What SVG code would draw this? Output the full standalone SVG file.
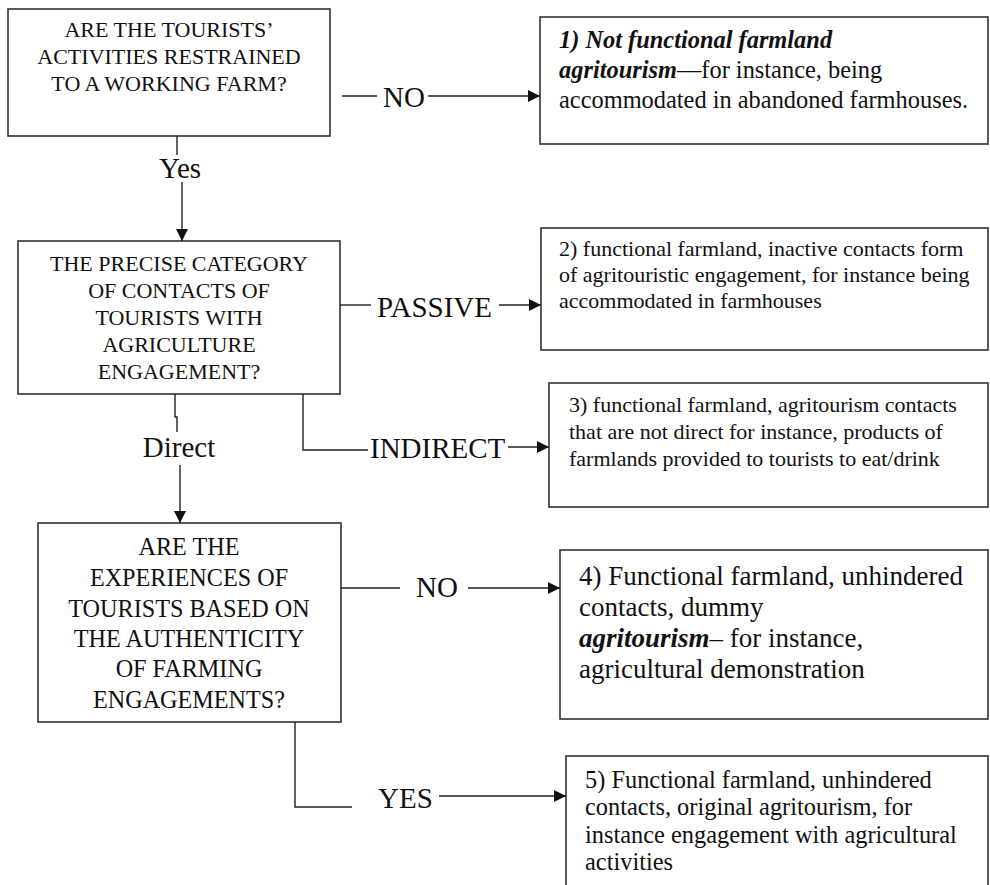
<svg xmlns="http://www.w3.org/2000/svg" width="990" height="885" viewBox="0 0 990 885">
<style>
.box{fill:#fff;stroke:#333;stroke-width:1.6}
.ln{fill:none;stroke:#222;stroke-width:1.4}
.q{font-family:'Liberation Serif','Times New Roman',serif;fill:#111;text-anchor:middle}
.t{font-family:'Liberation Serif','Times New Roman',serif;fill:#111}
.lab{font-family:'Liberation Serif','Times New Roman',serif;fill:#111;font-size:29px}
.bi{font-weight:bold;font-style:italic}
</style>
<defs>
<marker id="ah" markerUnits="userSpaceOnUse" markerWidth="12" markerHeight="12" viewBox="0 0 12 12" refX="12" refY="6" orient="auto">
<path d="M0,0 L12,6 L0,12 Z" fill="#111"/>
</marker>
</defs>
<rect width="990" height="885" fill="#fff"/>

<g id="q1">
<rect class="box" x="8" y="9" width="322" height="127"/>
<text class="q" font-size="22" x="169" y="37">ARE THE TOURISTS’</text>
<text class="q" font-size="22" x="169" y="64">ACTIVITIES RESTRAINED</text>
<text class="q" font-size="22" x="169" y="91">TO A WORKING FARM?</text>
</g>

<g id="r1">
<rect class="box" x="540" y="17" width="448" height="127"/>
<text class="t" font-size="24.4" x="559" y="48"><tspan class="bi">1) Not functional farmland</tspan></text>
<text class="t" font-size="24.4" x="559" y="78"><tspan class="bi">agritourism</tspan>—for instance, being</text>
<text class="t" font-size="24.4" x="559" y="108">accommodated in abandoned farmhouses.</text>
</g>

<g id="q2">
<rect class="box" x="18" y="241" width="322" height="153"/>
<text class="q" font-size="22" x="179" y="271">THE PRECISE CATEGORY</text>
<text class="q" font-size="22" x="179" y="298">OF CONTACTS OF</text>
<text class="q" font-size="22" x="179" y="325">TOURISTS WITH</text>
<text class="q" font-size="22" x="179" y="352">AGRICULTURE</text>
<text class="q" font-size="22" x="179" y="379">ENGAGEMENT?</text>
</g>

<g id="r2">
<rect class="box" x="541" y="228" width="447" height="122"/>
<text class="t" font-size="22" x="559" y="256">2) functional farmland, inactive contacts form</text>
<text class="t" font-size="22" x="559" y="282">of agritouristic engagement, for instance being</text>
<text class="t" font-size="22" x="559" y="308">accommodated in farmhouses</text>
</g>

<g id="r3">
<rect class="box" x="549" y="383" width="439" height="124"/>
<text class="t" font-size="22" x="569" y="412">3) functional farmland, agritourism contacts</text>
<text class="t" font-size="22" x="569" y="439">that are not direct for instance, products of</text>
<text class="t" font-size="22" x="569" y="466">farmlands provided to tourists to eat/drink</text>
</g>

<g id="q3">
<rect class="box" x="38" y="523" width="303" height="199"/>
<text class="q" font-size="24.2" x="189" y="555">ARE THE</text>
<text class="q" font-size="24.2" x="189" y="586">EXPERIENCES OF</text>
<text class="q" font-size="24.2" x="189" y="617">TOURISTS BASED ON</text>
<text class="q" font-size="24.2" x="189" y="647">THE AUTHENTICITY</text>
<text class="q" font-size="24.2" x="189" y="677">OF FARMING</text>
<text class="q" font-size="24.2" x="189" y="708">ENGAGEMENTS?</text>
</g>

<g id="r4">
<rect class="box" x="560" y="550" width="428" height="169"/>
<text class="t" font-size="27" x="579" y="585">4) Functional farmland, unhindered</text>
<text class="t" font-size="27" x="579" y="616">contacts, dummy</text>
<text class="t" font-size="27" x="579" y="647"><tspan class="bi">agritourism</tspan>– for instance,</text>
<text class="t" font-size="27" x="579" y="678">agricultural demonstration</text>
</g>

<g id="r5">
<rect class="box" x="566" y="756" width="422" height="140"/>
<text class="t" font-size="24.4" x="585" y="788">5) Functional farmland, unhindered</text>
<text class="t" font-size="24.4" x="585" y="815">contacts, original agritourism, for</text>
<text class="t" font-size="24.4" x="585" y="843">instance engagement with agricultural</text>
<text class="t" font-size="24.4" x="585" y="870">activities</text>
</g>

<g id="connectors">
<path class="ln" d="M177,136 V155"/>
<path class="ln" d="M182,182 V241" marker-end="url(#ah)"/>
<path class="ln" d="M342,96 H377"/>
<path class="ln" d="M428,96 H540" marker-end="url(#ah)"/>
<path class="ln" d="M340,305 H371"/>
<path class="ln" d="M499,305 H541" marker-end="url(#ah)"/>
<path class="ln" d="M175,394 V417 H177 V432"/>
<path class="ln" d="M180,465 V523" marker-end="url(#ah)"/>
<path class="ln" d="M303,394 V450 H368"/>
<path class="ln" d="M508,447 H549" marker-end="url(#ah)"/>
<path class="ln" d="M341,588 H400"/>
<path class="ln" d="M468,588 H560" marker-end="url(#ah)"/>
<path class="ln" d="M295,722 V807 H352"/>
<path class="ln" d="M439,796 H566" marker-end="url(#ah)"/>
<text class="lab" x="180" y="178" text-anchor="middle">Yes</text>
<text class="lab" x="383" y="107">NO</text>
<text class="lab" x="377" y="317">PASSIVE</text>
<text class="lab" x="179" y="457" text-anchor="middle">Direct</text>
<text class="lab" x="370" y="458">INDIRECT</text>
<text class="lab" x="416" y="597">NO</text>
<text class="lab" x="378" y="808">YES</text>
</g>
</svg>
